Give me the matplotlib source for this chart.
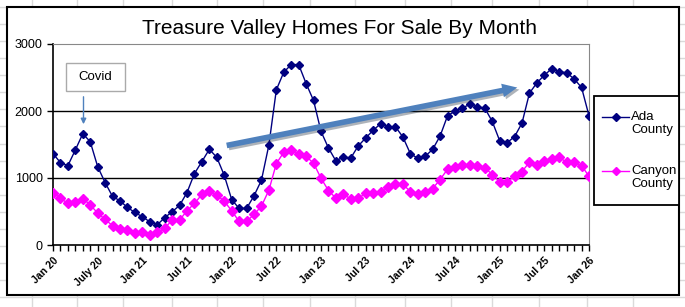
import matplotlib
matplotlib.use("Agg")
import matplotlib.pyplot as plt
from matplotlib.patches import Rectangle, FancyArrowPatch
from matplotlib.lines import Line2D
import matplotlib.patheffects as pe

plt.rcParams['font.family'] = ['Liberation Sans', 'DejaVu Sans']

# monthly homes for sale, Jan 2020 .. Jan 2026
ada = [1364, 1230, 1185, 1418, 1661, 1542, 1170, 932, 724, 660, 560, 486,
       421, 347, 302, 407, 496, 590, 783, 1066, 1245, 1428, 1309, 1041,
       679, 545, 545, 734, 967, 1493, 2316, 2579, 2693, 2693, 2410, 2157,
       1696, 1448, 1255, 1314, 1299, 1478, 1597, 1711, 1810, 1765, 1765, 1612,
       1364, 1294, 1324, 1428, 1627, 1929, 1998, 2048, 2098, 2063, 2043, 1845,
       1557, 1527, 1617, 1820, 2266, 2420, 2534, 2633, 2589, 2569, 2480, 2351,
       1929]
canyon = [783, 699, 620, 635, 694, 600, 476, 382, 288, 238, 218, 174,
          198, 154, 188, 248, 372, 372, 511, 620, 754, 813, 744, 655,
          511, 352, 352, 456, 580, 818, 1215, 1384, 1418, 1364, 1324, 1220,
          997, 813, 699, 754, 689, 699, 769, 779, 793, 873, 907, 907,
          798, 759, 793, 843, 977, 1131, 1165, 1190, 1190, 1180, 1155, 1051,
          947, 947, 1026, 1096, 1235, 1200, 1250, 1279, 1309, 1235, 1235, 1185,
          1026]
tick_labels = ["Jan 20", "July 20", "Jan 21", "Jul 21", "Jan 22", "Jul 22",
               "Jan 23", "Jul 23", "Jan 24", "Jul 24", "Jan 25", "Jul 25", "Jan 26"]
series_names = ["Ada\nCounty", "Canyon\nCounty"]
series_colors = ['#000080', '#FF00FF']

W, H = 685, 307
fig = plt.figure(figsize=(W / 100, H / 100), dpi=100)

def fx(px):
    return px / W

def fy(py):
    return 1 - py / H

# spreadsheet cells behind the chart
for cx in [31.7, 77.3, 123.3, 171.7, 217.3, 263.3, 310, 355, 405, 450.7,
           491.7, 539.3, 587.3, 633.3]:
    fig.lines.append(Line2D([fx(cx), fx(cx)], [0, 1], transform=fig.transFigure,
                            color='#dadada', linewidth=1, zorder=0))
for k in range(-1, 18):
    ry = 24.3 + 17.03 * k
    fig.lines.append(Line2D([0, 1], [fy(ry), fy(ry)], transform=fig.transFigure,
                            color='#dadada', linewidth=1, zorder=0))

# chart area
fig.patches.append(Rectangle((fx(7), fy(295)), fx(672), 288 / H, transform=fig.transFigure,
                             facecolor='white', edgecolor='black', linewidth=1.5, zorder=0.5))

ax = fig.add_axes([fx(53), fy(245), fx(536), 201 / H])
ax.set_zorder(1)
ax.set_facecolor('none')
months = list(range(len(ada)))
ax.plot(months, ada, color=series_colors[0], marker='D', markersize=4.5, linewidth=1, zorder=3)
ax.plot(months, canyon, color=series_colors[1], marker='D', markersize=5, linewidth=1, zorder=3)

ax.set_xlim(0, 72)
ax.set_ylim(0, 3000)
ax.set_yticks([0, 1000, 2000, 3000])
ax.set_yticklabels(['0', '1000', '2000', '3000'], fontsize=9)
ax.set_xticks(range(0, 73, 6))
ax.set_xticks(range(0, 73), minor=True)
ax.set_xticklabels(tick_labels, rotation=45, ha='right', rotation_mode='anchor',
                   fontsize=7.5, fontweight='bold')
ax.tick_params(axis='x', which='both', direction='out', length=4, width=1)
ax.tick_params(axis='y', direction='out', length=4, width=1)
for y in (1000, 2000):
    ax.axhline(y, color='black', linewidth=1, zorder=1)
ax.spines['top'].set_color('#888888')
ax.spines['right'].set_color('#888888')
ax.spines['left'].set_linewidth(1.2)
ax.spines['bottom'].set_linewidth(1.2)

fig.text(fx(340), fy(29), 'Treasure Valley Homes For Sale By Month',
         ha='center', va='center', fontsize=15, zorder=3)

# legend box drawn by hand, handle sits on the first text line
fig.patches.append(Rectangle((fx(594), fy(205)), fx(85), 109 / H, transform=fig.transFigure,
                             facecolor='white', edgecolor='black', linewidth=1.3, zorder=2))
for name, col, ly in zip(series_names, series_colors, [117, 171]):
    fig.lines.append(Line2D([fx(602), fx(629)], [fy(ly), fy(ly)], transform=fig.transFigure,
                            color=col, linewidth=1, zorder=3))
    fig.lines.append(Line2D([fx(615.5)], [fy(ly)], transform=fig.transFigure, color=col,
                            marker='D', markersize=4.5, zorder=3))
    fig.text(fx(631), fy(ly - 6), name, ha='left', va='top', fontsize=9.5,
             linespacing=1.15, zorder=3)

# Covid callout
fig.patches.append(Rectangle((fx(66), fy(91)), fx(59), 28 / H, transform=fig.transFigure,
                             facecolor='white', edgecolor='#aaaaaa', linewidth=1, zorder=4))
fig.text(fx(95.5), fy(77), 'Covid', ha='center', va='center', fontsize=9.5, zorder=4)
fig.patches.append(FancyArrowPatch((fx(83.5), fy(94)), (fx(83.5), fy(127)),
                                   transform=fig.transFigure, arrowstyle='-|>',
                                   mutation_scale=8, color='#4F81BD', linewidth=1, zorder=4))

# trend arrow
trend = FancyArrowPatch((fx(224), fy(146)), (fx(520), fy(87)),
                        transform=fig.transFigure,
                        arrowstyle='simple,head_width=1.1,head_length=1.2,tail_width=0.45',
                        mutation_scale=9, color='#4F81BD', linewidth=0, zorder=5,
                        path_effects=[pe.SimplePatchShadow(offset=(1.5, -1.5), alpha=0.35),
                                      pe.Normal()])
fig.patches.append(trend)

fig.savefig('out.png', dpi=100)
